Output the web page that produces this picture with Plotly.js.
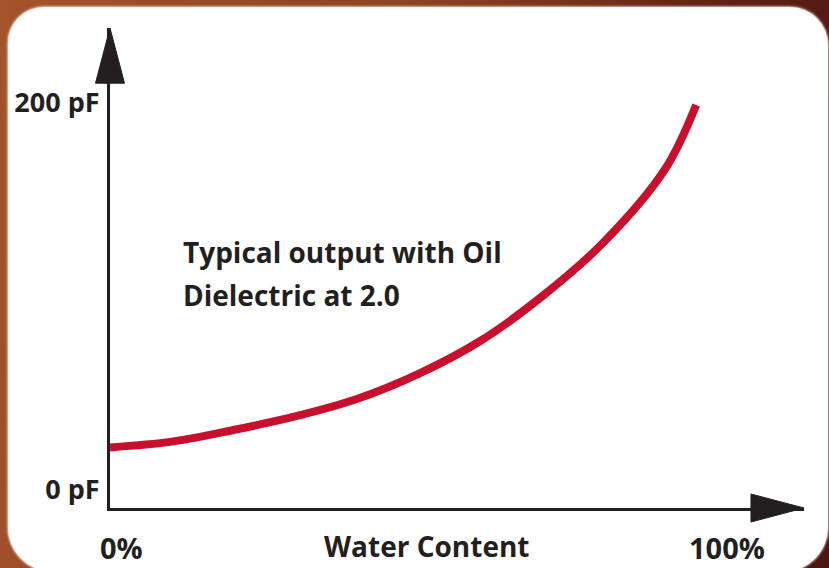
<!DOCTYPE html>
<html>
<head>
<meta charset="utf-8">
<script src="https://cdn.plot.ly/plotly-3.0.1.min.js"></script>
<style>
  html, body { margin: 0; padding: 0; width: 829px; height: 568px; overflow: hidden; }
  body { background: linear-gradient(100deg, #a4532b 0%, #8e4221 45%, #5e2014 80%, #4a1612 100%); position: relative; }
  #panel { position: absolute; left: 8px; top: 7px; width: 820px; height: 565px; background: #ffffff;
           border-radius: 36px 38px 45px 45px; box-shadow: 0 0 2px 1px rgba(255,235,225,0.7); }
  #chart { position: absolute; left: 0; top: 0; width: 829px; height: 568px; }
</style>
</head>
<body>
<div id="panel"></div>
<div id="chart"></div>
<script>
// Data
const waterContent = [0, 10, 20, 30, 40, 50, 60, 70, 80, 90, 95];        // %
const capacitance  = [22, 25, 31, 38, 47, 60, 77, 100, 128, 166, 199];   // pF
const yTickVals = [0, 200];
const yTickText = ['0 pF', '200 pF'];
const xTickVals = [0, 100];
const xTickText = ['0%', '100%'];
const xTitle = 'Water Content';
const noteLines = ['Typical output with Oil', 'Dielectric at 2.0'];

const INK = '#231f20';
const FONT = 'Open Sans, Liberation Sans, sans-serif';

const trace = {
  x: waterContent, y: capacitance, type: 'scatter', mode: 'lines',
  line: { color: '#c8102e', width: 8, shape: 'spline', smoothing: 1 },
  hoverinfo: 'skip'
};

const annotations = [];
// x tick labels
annotations.push({ x: xTickVals[0], xref: 'x', y: -0.083, yref: 'paper', text: xTickText[0],
  showarrow: false, xanchor: 'left', yanchor: 'middle', xshift: -12,
  font: { family: FONT, size: 29, color: INK, weight: 700 } });
annotations.push({ x: xTickVals[1], xref: 'x', y: -0.083, yref: 'paper', text: xTickText[1],
  showarrow: false, xanchor: 'center', yanchor: 'middle',
  font: { family: FONT, size: 29, color: INK, weight: 700 } });
// x title
annotations.push({ x: 0.457, xref: 'paper', y: -0.08, yref: 'paper', text: xTitle,
  showarrow: false, xanchor: 'center', yanchor: 'middle',
  font: { family: FONT, size: 28, color: INK, weight: 700 } });
// note
annotations.push({ x: 0.102, xref: 'paper', y: 0.5333, yref: 'paper', text: noteLines[0],
  showarrow: false, xanchor: 'left', yanchor: 'middle',
  font: { family: FONT, size: 28, color: INK, weight: 700 } });
annotations.push({ x: 0.102, xref: 'paper', y: 0.4437, yref: 'paper', text: noteLines[1],
  showarrow: false, xanchor: 'left', yanchor: 'middle',
  font: { family: FONT, size: 28, color: INK, weight: 700 } });

const shapes = [
  // y-axis arrow head
  { type: 'path', xref: 'paper', yref: 'paper',
    path: 'M -0.0209 0.885 L 0 1 L 0.0209 0.885 Z', fillcolor: INK, line: { color: INK, width: 1 } },
  // x-axis arrow head
  { type: 'path', xref: 'paper', yref: 'paper',
    path: 'M 0.9236 -0.0292 L 1 0 L 0.9236 0.0292 Z', fillcolor: INK, line: { color: INK, width: 1 } }
];

const layout = {
  width: 829, height: 568,
  margin: { l: 110, r: 25, t: 28, b: 60, pad: 0 },
  paper_bgcolor: 'rgba(0,0,0,0)', plot_bgcolor: 'rgba(0,0,0,0)',
  showlegend: false,
  xaxis: { range: [0, 112.48], showgrid: false, zeroline: false, showline: true,
           linecolor: INK, linewidth: 3, ticks: '', showticklabels: false, fixedrange: true },
  yaxis: { range: [-9.30, 238.76], showgrid: false, zeroline: false, showline: true,
           linecolor: INK, linewidth: 3, ticks: '', tickvals: yTickVals, ticktext: yTickText,
           ticklabelstandoff: 2,
           tickfont: { family: FONT, size: 27, color: INK, weight: 700 }, fixedrange: true },
  annotations: annotations,
  shapes: shapes
};

Plotly.newPlot('chart', [trace], layout, { displayModeBar: false, staticPlot: true });
</script>
</body>
</html>
